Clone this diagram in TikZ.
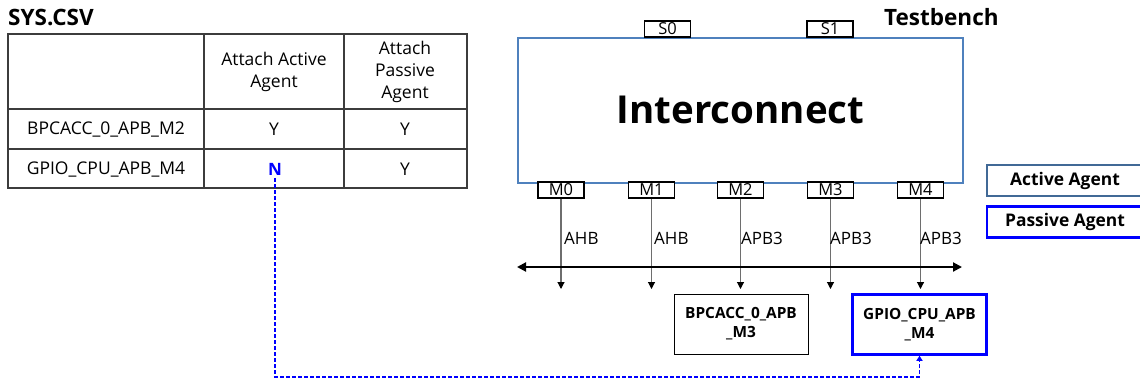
\documentclass[tikz,border=0pt]{standalone}
\usepackage{fontspec}
\setmainfont{Open Sans}
\usetikzlibrary{arrows.meta,calc}
\definecolor{icblue}{RGB}{79,129,189}
\definecolor{actblue}{RGB}{65,105,150}
\definecolor{pasblue}{RGB}{0,0,255}
\definecolor{busgray}{RGB}{110,110,110}
\definecolor{gridline}{RGB}{60,60,60}

\begin{document}
\begin{tikzpicture}[x=1pt,y=-1pt,
  txt/.style={inner sep=0pt, align=center, font=\fontsize{17.5}{21.8}\selectfont},
  title/.style={inner sep=0pt, anchor=west, font=\bfseries\fontsize{22.5}{22.5}\selectfont},
  port/.style={draw=black, line width=1.6pt, fill=white, minimum width=46pt,
    minimum height=16pt, inner sep=0pt, font=\fontsize{16.5}{16.5}\selectfont},
  buslink/.style={draw=busgray, line width=1.1pt, -{Triangle[width=7pt,length=7pt,color=black]}},
  buslabel/.style={inner sep=0pt, anchor=west, font=\fontsize{17}{17}\selectfont},
  dut/.style={minimum width=134pt, minimum height=60pt, inner sep=0pt, align=center,
    font=\bfseries\fontsize{15.4}{19}\selectfont},
  legend/.style={minimum width=156pt, minimum height=31pt, inner sep=0pt,
    font=\bfseries\fontsize{17.4}{17.4}\selectfont},
  csvlink/.style={draw=pasblue, line width=1.5pt, dash pattern=on 4pt off 2pt,
    -{Triangle[width=6pt,length=5pt]}}]

\clip (0,0) rectangle (1140,381);
\fill[white] (0,0) rectangle (1140,381);

% configuration table
\node[title] (systitle) at (8,17) {SYS.CSV};
\draw[gridline, line width=1.2pt] (8,34) rectangle (467,188);
\draw[gridline, line width=1.2pt] (8,109) -- (467,109) (8,149) -- (467,149)
  (204,34) -- (204,188) (344,34) -- (344,188);
\node[txt] (hact) at (274,72) {Attach Active\\Agent};
\node[txt] (hpas) at (405,72) {Attach\\Passive\\Agent};
\node[txt] (row1) at (106,129) {BPCACC\_0\_APB\_M2};
\node[txt] (row1a) at (274,129) {Y};
\node[txt] (row1p) at (405,129) {Y};
\node[txt] (row2) at (106,169) {GPIO\_CPU\_APB\_M4};
\node[txt, text=pasblue, font=\bfseries\fontsize{17}{17}\selectfont] (nflag) at (275,169) {N};
\node[txt] (row2p) at (405,169) {Y};

% interconnect and its ports
\node[title] (tbtitle) at (884,17) {Testbench};
\node[draw=icblue, line width=2pt, minimum width=445pt, minimum height=145pt, inner sep=0pt,
  font=\bfseries\fontsize{38.5}{38.5}\selectfont] (ic) at (740.5,110) {Interconnect};
\node[port] (s0) at (667.5,29) {S0};
\node[port] (s1) at (830,29) {S1};
\node[port] (m0) at (561,190) {M0};
\node[port] (m1) at (651.5,190) {M1};
\node[port] (m2) at (740.5,190) {M2};
\node[port] (m3) at (830.5,190) {M3};
\node[port] (m4) at (920.5,190) {M4};

% master links down to the bus
\coordinate (t0) at (561,289);
\coordinate (t1) at (651.5,289);
\coordinate (t2) at (740.5,289);
\coordinate (t3) at (830.5,289);
\coordinate (t4) at (920.5,289);
\draw[buslink] (m0.south) -- (t0);
\draw[buslink] (m1.south) -- (t1);
\draw[buslink] (m2.south) -- (t2);
\draw[buslink] (m3.south) -- (t3);
\draw[buslink] (m4.south) -- (t4);
\node[buslabel] (l0) at (564,238) {AHB};
\node[buslabel] (l1) at (654,238) {AHB};
\node[buslabel] (l2) at (741,238) {APB3};
\node[buslabel] (l3) at (830,238) {APB3};
\node[buslabel] (l4) at (920,238) {APB3};

\coordinate (busL) at (517,267);
\coordinate (busR) at (962,267);
\draw[line width=2pt, {Triangle[width=9pt,length=9pt]}-{Triangle[width=9pt,length=9pt]}] (busL) -- (busR);

% attached agents
\node[dut, draw=black, line width=1pt] (bpc) at (741,324) {BPCACC\_0\_APB\\\_M3};
\node[dut, draw=pasblue, line width=2.5pt] (gpio) at (919.5,324.5) {GPIO\_CPU\_APB\\\_M4};

% legend
\node[legend, draw=actblue, line width=2pt] (legact) at (1065,180.5) {Active Agent};
\node[legend, draw=pasblue, line width=2.5pt] (legpas) at (1065,222) {Passive Agent};

% table entry to the agent it configures
\coordinate (dashlow) at (919.5,377);
\draw[csvlink, shorten <=3pt] (nflag.south) |- (dashlow) -- (gpio.south);
\end{tikzpicture}
\end{document}
